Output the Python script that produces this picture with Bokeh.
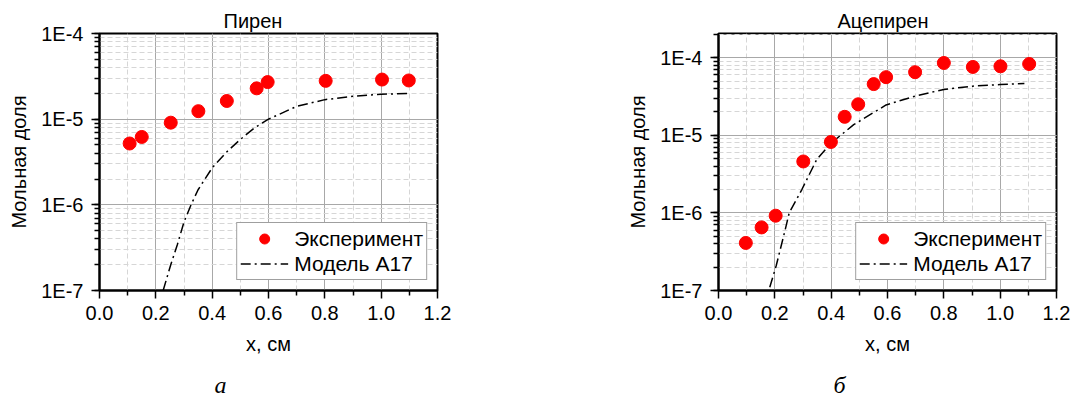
from bokeh.plotting import figure
from bokeh.layouts import row
from bokeh.models import (Range1d, CustomJSTickFormatter, FixedTicker, LinearAxis,
                          PrintfTickFormatter, Legend, LegendItem, LogTicker)
from bokeh.embed import file_html
from bokeh.resources import INLINE

# ---- data: Пирен (pyrene) ----
pyr_exp_x = [0.107, 0.150, 0.253, 0.351, 0.452, 0.558, 0.597, 0.803, 1.003, 1.098]
pyr_exp_y = [5.2e-6, 6.2e-6, 9.1e-6, 1.24e-5, 1.63e-5, 2.29e-5, 2.71e-5, 2.80e-5, 2.90e-5, 2.83e-5]
pyr_mod_x = [0.226, 0.253, 0.276, 0.30, 0.325, 0.35, 0.40, 0.45, 0.50, 0.55, 0.60, 0.70, 0.80, 0.90, 1.00, 1.10]
pyr_mod_y = [1.0e-7, 2.0e-7, 3.4e-7, 6.3e-7, 1.0e-6, 1.5e-6, 2.7e-6, 4.1e-6, 5.8e-6, 7.9e-6, 1.0e-5,
             1.41e-5, 1.69e-5, 1.85e-5, 1.96e-5, 1.99e-5]

# ---- data: Ацепирен (acepyrene) ----
ace_exp_x = [0.097, 0.153, 0.203, 0.301, 0.399, 0.448, 0.496, 0.551, 0.595, 0.698, 0.80, 0.903, 1.001, 1.103]
ace_exp_y = [4.1e-7, 6.5e-7, 9.2e-7, 4.6e-6, 8.2e-6, 1.73e-5, 2.51e-5, 4.57e-5, 5.61e-5, 6.5e-5,
             8.55e-5, 7.6e-5, 7.75e-5, 8.3e-5]
ace_mod_x = [0.182, 0.205, 0.235, 0.251, 0.296, 0.349, 0.399, 0.48, 0.595, 0.698, 0.80, 0.903, 1.0, 1.086]
ace_mod_y = [1.1e-7, 2.1e-7, 5.7e-7, 1.0e-6, 2.0e-6, 4.9e-6, 7.9e-6, 1.37e-5, 2.46e-5, 3.2e-5,
             3.9e-5, 4.3e-5, 4.5e-5, 4.65e-5]

x_major_ticks = [0.0, 0.2, 0.4, 0.6, 0.8, 1.0, 1.2]
x_minor_ticks = [0.1, 0.3, 0.5, 0.7, 0.9, 1.1]

titles = ["Пирен", "Ацепирен"]
letters = ["а", "б"]
x_label = "x, см"
y_label = "Мольная доля"
legend_labels = ["Эксперимент", "Модель A17"]

SANS = "Liberation Sans"


def make(title, title_off, letter, letter_pos, ex, ey, mx, my, ytop, width, mbl, mbr):
    p = figure(width=width, height=400, x_range=Range1d(0, 1.2), y_range=Range1d(1e-7, ytop),
               y_axis_type="log", output_backend="svg", toolbar_location=None,
               min_border_left=mbl, min_border_right=mbr, min_border_top=33, min_border_bottom=108)
    p.title.text = title
    p.title.align = "left"
    p.title.offset = title_off
    p.title.text_font = SANS
    p.title.text_font_size = "20px"
    p.title.text_font_style = "normal"
    p.title.text_color = "black"
    p.title.standoff = 4

    p.xaxis.ticker = FixedTicker(ticks=x_major_ticks, minor_ticks=x_minor_ticks)
    p.xaxis.formatter = PrintfTickFormatter(format="%.1f")
    p.yaxis.ticker = LogTicker(num_minor_ticks=10)
    p.yaxis.formatter = CustomJSTickFormatter(code="return '1E' + Math.round(Math.log10(tick));")
    p.xaxis.axis_label = x_label
    p.yaxis.axis_label = y_label
    for ax in (p.xaxis[0], p.yaxis[0]):
        ax.axis_line_width = 2
        ax.axis_line_color = "black"
        ax.major_tick_line_width = 1.5
        ax.minor_tick_line_width = 1.5
        ax.major_tick_line_color = "black"
        ax.minor_tick_line_color = "black"
        ax.major_tick_in = 0
        ax.major_tick_out = 8
        ax.minor_tick_in = 0
        ax.minor_tick_out = 5
        ax.major_label_text_font = SANS
        ax.major_label_text_font_size = "20px"
        ax.major_label_text_color = "black"
        ax.axis_label_text_font = SANS
        ax.axis_label_text_font_size = "20px"
        ax.axis_label_text_font_style = "normal"
        ax.axis_label_text_color = "black"
    p.xaxis.major_label_standoff = 7
    p.xaxis.axis_label_standoff = 10
    p.yaxis.major_label_standoff = 8
    p.yaxis.axis_label_standoff = 8

    # panel letter (а / б) as the single label of an invisible pixel-scaled axis below
    p.extra_x_ranges = {"px": Range1d(0, 338)}
    lax = LinearAxis(x_range_name="px", ticker=FixedTicker(ticks=[letter_pos], minor_ticks=[]),
                     formatter=CustomJSTickFormatter(args={"letter": letter}, code="return letter;"),
                     axis_line_color=None, major_tick_line_color=None, minor_tick_line_color=None,
                     major_tick_in=0, major_tick_out=0, minor_tick_in=0, minor_tick_out=0,
                     major_label_standoff=14, major_label_text_font="Liberation Serif",
                     major_label_text_font_style="italic", major_label_text_font_size="24px",
                     major_label_text_color="black")
    p.add_layout(lax, "below")

    for g in (p.xgrid[0], p.ygrid[0]):
        g.grid_line_color = "#a8a8a8"
        g.grid_line_width = 1
        g.minor_grid_line_color = "#d6d6d6"
        g.minor_grid_line_width = 1
        g.minor_grid_line_dash = "5 3"

    p.outline_line_color = "black"
    p.outline_line_width = 2
    p.background_fill_color = "white"
    p.border_fill_color = "white"

    ln = p.line(mx, my, line_color="black", line_width=1.5, line_dash="10 4 2 4")
    sc = p.scatter(ex, ey, marker="circle", size=13, fill_color="#ff0000", line_color="#ff0000")

    leg = Legend(items=[LegendItem(label=legend_labels[0], renderers=[sc]),
                        LegendItem(label=legend_labels[1], renderers=[ln])],
                 location="bottom_right", glyph_width=48, glyph_height=25, label_standoff=6,
                 padding=3, spacing=0, margin=10, label_text_font=SANS, label_text_font_size="21px",
                 label_text_color="black", border_line_color="#404040", border_line_width=1,
                 background_fill_color="white", background_fill_alpha=1)
    p.add_layout(leg)
    return p


p1 = make(titles[0], 124, letters[0], 121, pyr_exp_x, pyr_exp_y, pyr_mod_x, pyr_mod_y,
          1e-4, 468, 99, 31)
p2 = make(titles[1], 119, letters[1], 121, ace_exp_x, ace_exp_y, ace_mod_x, ace_mod_y,
          2.05e-4, 607, 250, 19)

layout = row(p1, p2, spacing=0)
open("out.html", "w").write(file_html(layout, INLINE))
